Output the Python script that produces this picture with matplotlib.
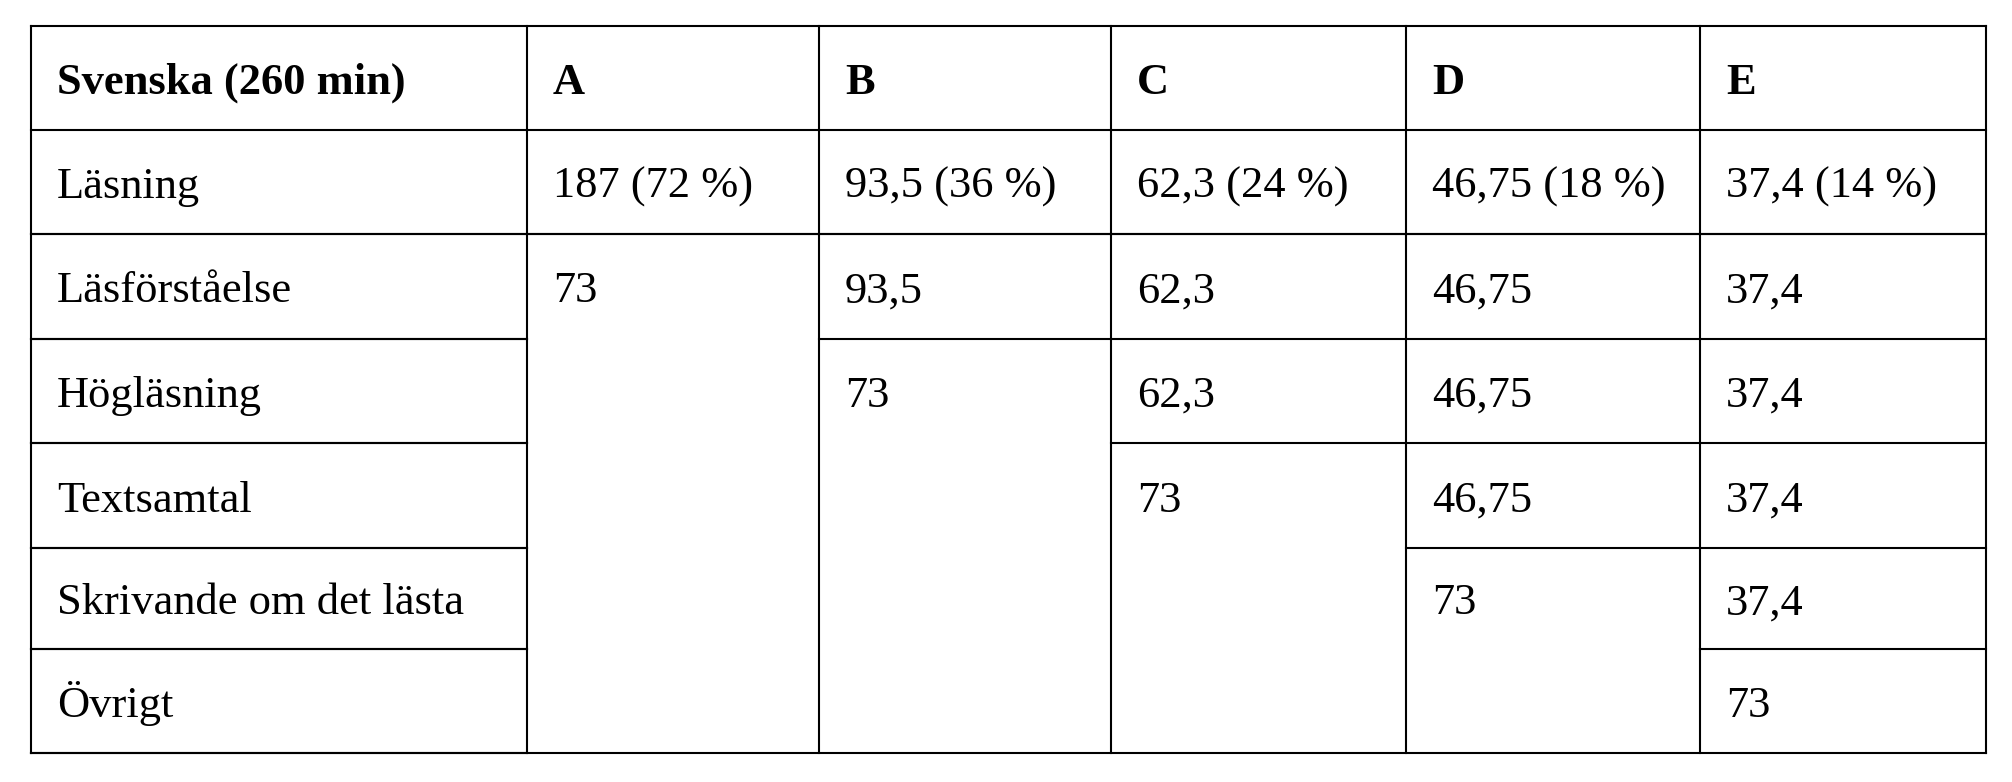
import matplotlib.pyplot as plt
from matplotlib.lines import Line2D

# ── Data ──────────────────────────────────────────
header = "Svenska (260 min)"
col_labels = ["A", "B", "C", "D", "E"]
row_labels = ["Läsning", "Läsförståelse", "Högläsning", "Textsamtal",
              "Skrivande om det lästa", "Övrigt"]
lasning_values = ["187 (72 %)", "93,5 (36 %)", "62,3 (24 %)",
                  "46,75 (18 %)", "37,4 (14 %)"]
# Per column, the values for the rows under "Läsning";
# None = cell merged with the one above
col_cells = {
    "A": ["73", None, None, None, None],
    "B": ["93,5", "73", None, None, None],
    "C": ["62,3", "62,3", "73", None, None],
    "D": ["46,75", "46,75", "46,75", "73", None],
    "E": ["37,4", "37,4", "37,4", "37,4", "73"],
}

# ── Layout (pixels) ───────────────────────────────
W, H = 2012, 782
col_edges = [31, 527, 819, 1111, 1406, 1700, 1986]
row_edges = [26, 130, 234, 339, 443, 548, 649, 753]
pad_x = 26
base_off = 16
fs = 32
lw = 1.5

plt.rcParams['font.family'] = ['Liberation Serif', 'DejaVu Serif']

fig = plt.figure(figsize=(W / 100, H / 100), dpi=100)
ax = fig.add_axes([0, 0, 1, 1])
ax.set_xlim(0, W)
ax.set_ylim(H, 0)
ax.axis('off')


def hline(x0, x1, y):
    ax.add_line(Line2D([x0, x1], [y, y], color='black', lw=lw,
                       solid_capstyle='projecting'))


def vline(x, y0, y1):
    ax.add_line(Line2D([x, x], [y0, y1], color='black', lw=lw,
                       solid_capstyle='projecting'))


def cell_text(ci, ri, s, bold=False):
    x = col_edges[ci] + pad_x
    y = (row_edges[ri] + row_edges[ri + 1]) / 2 + base_off
    ax.text(x, y, s, fontsize=fs, va='baseline', ha='left',
            fontweight='bold' if bold else 'normal', color='black')


# outer frame + vertical lines
for x in col_edges:
    vline(x, row_edges[0], row_edges[-1])
hline(col_edges[0], col_edges[-1], row_edges[0])
hline(col_edges[0], col_edges[-1], row_edges[-1])

# header row
cell_text(0, 0, header, bold=True)
for ci, lab in enumerate(col_labels, start=1):
    cell_text(ci, 0, lab, bold=True)

# first column row lines + labels
for ri, lab in enumerate(row_labels, start=1):
    cell_text(0, ri, lab)
    hline(col_edges[0], col_edges[1], row_edges[ri])
    hline(col_edges[0], col_edges[1], row_edges[ri + 1])

# Läsning row
for ci, val in enumerate(lasning_values, start=1):
    cell_text(ci, 1, val)
    hline(col_edges[ci], col_edges[ci + 1], row_edges[1])
    hline(col_edges[ci], col_edges[ci + 1], row_edges[2])

# sub rows with merged cells
for ci, lab in enumerate(col_labels, start=1):
    for k, val in enumerate(col_cells[lab]):
        ri = k + 2
        if val is None:
            continue
        cell_text(ci, ri, val)
        hline(col_edges[ci], col_edges[ci + 1], row_edges[ri])

fig.savefig('out.png', dpi=100, facecolor='white')
